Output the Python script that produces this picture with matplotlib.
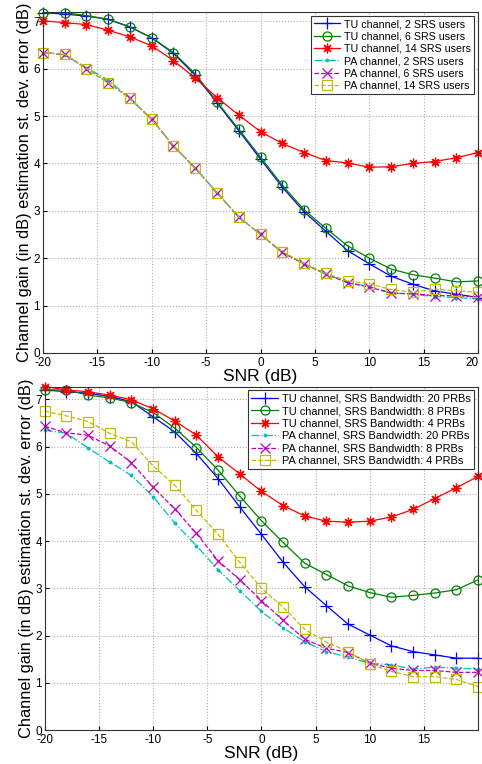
import matplotlib
matplotlib.use('Agg')
import matplotlib.pyplot as plt
import numpy as np

plt.rcParams['font.family'] = ['Liberation Sans', 'DejaVu Sans']
plt.rcParams['axes.unicode_minus'] = False

snr = np.arange(-20, 21, 2)

# top panel: number of SRS users
tu_2 = [7.18, 7.15, 7.11, 7.04, 6.88, 6.65, 6.32, 5.86, 5.28, 4.69, 4.09,
        3.50, 2.98, 2.57, 2.16, 1.88, 1.62, 1.45, 1.31, 1.24, 1.17]
tu_6 = [7.18, 7.18, 7.12, 7.04, 6.88, 6.65, 6.34, 5.89, 5.30, 4.72, 4.13,
        3.54, 3.02, 2.63, 2.26, 2.00, 1.77, 1.65, 1.58, 1.50, 1.52]
tu_14 = [7.01, 6.97, 6.93, 6.81, 6.67, 6.48, 6.17, 5.80, 5.39, 5.02, 4.67,
         4.42, 4.23, 4.06, 4.01, 3.92, 3.93, 4.00, 4.04, 4.12, 4.23]
pa_2 = [6.34, 6.29, 6.02, 5.76, 5.37, 4.93, 4.37, 3.90, 3.38, 2.87, 2.50,
        2.12, 1.88, 1.66, 1.49, 1.40, 1.27, 1.24, 1.19, 1.17, 1.14]
pa_6 = [6.34, 6.30, 6.00, 5.70, 5.37, 4.93, 4.37, 3.90, 3.38, 2.87, 2.50,
        2.12, 1.88, 1.67, 1.48, 1.39, 1.26, 1.25, 1.21, 1.21, 1.18]
pa_14 = [6.34, 6.30, 6.00, 5.70, 5.37, 4.93, 4.37, 3.90, 3.38, 2.87, 2.50,
         2.14, 1.89, 1.68, 1.52, 1.46, 1.34, 1.28, 1.35, 1.31, 1.28]

# bottom panel: SRS bandwidth
tu_20prb = [7.20, 7.16, 7.13, 7.06, 6.95, 6.63, 6.31, 5.85, 5.32, 4.72, 4.14,
            3.55, 3.03, 2.63, 2.24, 2.01, 1.78, 1.66, 1.59, 1.52, 1.52]
tu_8prb = [7.20, 7.20, 7.09, 7.03, 6.93, 6.72, 6.39, 5.98, 5.50, 4.95, 4.43,
           3.97, 3.53, 3.29, 3.05, 2.91, 2.81, 2.85, 2.90, 2.97, 3.18]
tu_4prb = [7.27, 7.20, 7.16, 7.09, 6.99, 6.80, 6.54, 6.24, 5.78, 5.42, 5.05,
           4.75, 4.53, 4.42, 4.40, 4.42, 4.51, 4.67, 4.90, 5.13, 5.37]
pa_20prb = [6.35, 6.28, 5.97, 5.67, 5.39, 4.94, 4.38, 3.90, 3.39, 2.95, 2.51,
            2.16, 1.87, 1.66, 1.54, 1.41, 1.38, 1.29, 1.33, 1.31, 1.29]
pa_8prb = [6.43, 6.29, 6.24, 6.01, 5.66, 5.14, 4.68, 4.16, 3.58, 3.18, 2.74,
           2.32, 1.92, 1.73, 1.64, 1.41, 1.31, 1.26, 1.26, 1.22, 1.22]
pa_4prb = [6.75, 6.65, 6.53, 6.28, 6.10, 5.59, 5.18, 4.65, 4.14, 3.55, 3.00,
           2.60, 2.13, 1.86, 1.66, 1.40, 1.24, 1.13, 1.13, 1.07, 0.92]

top_labels = ['TU channel, 2 SRS users', 'TU channel, 6 SRS users', 'TU channel, 14 SRS users',
              'PA channel, 2 SRS users', 'PA channel, 6 SRS users', 'PA channel, 14 SRS users']
bot_labels = ['TU channel, SRS Bandwidth: 20 PRBs', 'TU channel, SRS Bandwidth: 8 PRBs',
              'TU channel, SRS Bandwidth: 4 PRBs', 'PA channel, SRS Bandwidth: 20 PRBs',
              'PA channel, SRS Bandwidth: 8 PRBs', 'PA channel, SRS Bandwidth: 4 PRBs']

# matlab-ish styles: b+-, go-, r*-, c.-., mx--, ys--
styles = [
    dict(color='#0000ff', ls='-', marker='+', ms=8, mew=0.9),
    dict(color='#008000', ls='-', marker='o', ms=6.5, mfc='none', mew=0.9),
    dict(color='#ff0000', ls='-', marker=(8, 2, 0), ms=7, mew=0.9),
    dict(color='#00bfbf', ls='-.', marker='.', ms=3.5),
    dict(color='#bf00bf', ls='--', marker='x', ms=6.5, mew=0.9),
    dict(color='#bfbf00', ls='--', marker='s', ms=6.5, mfc='none', mew=0.9),
]

fig = plt.figure(figsize=(4.82, 7.64), dpi=100)
ax1 = fig.add_axes([0.089, 0.538, 0.903, 0.446])
ax2 = fig.add_axes([0.093, 0.0445, 0.899, 0.4495])

ylabel = 'Channel gain (in dB) estimation st. dev. error (dB)'

def setup(ax, series, labels, xticks, ymax, legsize):
    for ys, lab, st in zip(series, labels, styles):
        ax.plot(snr, ys, label=lab, lw=0.9, clip_on=False, **st)
    ax.set_xlim(-20, 20)
    ax.set_ylim(0, ymax)
    ax.set_xticks(xticks)
    ax.set_yticks(range(0, 8))
    ax.tick_params(direction='in', labelsize=8.5, length=3, pad=2)
    ax.tick_params(axis='x', pad=3)
    ax.grid(True, ls=':', color='#b0b0b0', lw=0.8)
    ax.set_xlabel('SNR (dB)', fontsize=12.5, labelpad=0)
    ax.set_ylabel(ylabel, fontsize=11.8, labelpad=1)
    for s in ax.spines.values():
        s.set_linewidth(0.8)
        s.set_color('#333333')
    leg = ax.legend(loc='upper right', fontsize=legsize, handlelength=2.4, handletextpad=0.4,
                    labelspacing=0.22, borderpad=0.3, borderaxespad=0.35,
                    fancybox=False, framealpha=1, edgecolor='#333333')
    leg.get_frame().set_linewidth(0.8)

setup(ax1, [tu_2, tu_6, tu_14, pa_2, pa_6, pa_14], top_labels, range(-20, 21, 5), 7.19, 7.7)
setup(ax2, [tu_20prb, tu_8prb, tu_4prb, pa_20prb, pa_8prb, pa_4prb], bot_labels,
      range(-20, 16, 5), 7.27, 7.9)

# last tick label of the top panel sits inside the figure edge
ax1.get_xticklabels()[-1].set_horizontalalignment('right')

fig.savefig('out.png', dpi=100)
